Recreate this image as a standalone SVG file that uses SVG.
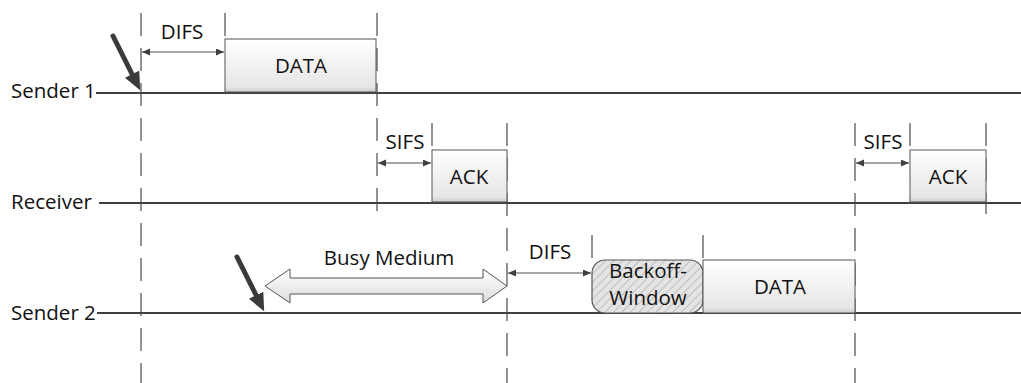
<svg xmlns="http://www.w3.org/2000/svg" width="1021" height="383" viewBox="0 0 1021 383">
<style>
text{font-family:"Open Sans","Liberation Sans",sans-serif;font-size:20.5px;fill:#111}
.lbl{text-anchor:middle}
.tl{stroke:#404040;stroke-width:2;fill:none}
.dash{stroke:#595959;stroke-width:1.3;stroke-dasharray:23 12;fill:none}
.gap{stroke:#505050;stroke-width:1.2;fill:none;marker-start:url(#sm);marker-end:url(#sm)}
.box{fill:url(#bg);stroke:#555;stroke-width:1}
.big{stroke:#3a3a3a;stroke-width:5;stroke-linecap:round;fill:none;marker-end:url(#bh)}
</style>
<defs>
<linearGradient id="bg" x1="0" y1="0" x2="0" y2="1">
<stop offset="0" stop-color="#ffffff"/><stop offset="0.9" stop-color="#e6e6e6"/><stop offset="1" stop-color="#cfcfcf"/>
</linearGradient>
<linearGradient id="ag" x1="0" y1="0" x2="0" y2="1">
<stop offset="0" stop-color="#ffffff"/><stop offset="1" stop-color="#dcdcdc"/>
</linearGradient>
<pattern id="hatch" patternUnits="userSpaceOnUse" width="6" height="6" patternTransform="rotate(45)">
<rect width="6" height="6" fill="#e4e4e4"/>
<line x1="0" y1="0" x2="0" y2="6" stroke="#9a9a9a" stroke-width="1"/>
</pattern>
<marker id="sm" markerUnits="userSpaceOnUse" markerWidth="9" markerHeight="8" refX="8" refY="3.5" orient="auto-start-reverse">
<path d="M0,0 L8,3.5 L0,7 z" fill="#404040"/>
</marker>
<marker id="bh" markerUnits="userSpaceOnUse" markerWidth="20" markerHeight="20" refX="2" refY="8" orient="auto">
<path d="M0,0 L18,8 L0,16 z" fill="#3a3a3a"/>
</marker>
</defs>

<g id="guides">
<line class="dash" x1="141" y1="13" x2="141" y2="383"/>
<line class="dash" x1="225" y1="13" x2="225" y2="39"/>
<line class="dash" x1="377" y1="13" x2="377" y2="214"/>
<line class="dash" x1="432" y1="123" x2="432" y2="150"/>
<line class="dash" x1="507" y1="123" x2="507" y2="383"/>
<line class="dash" x1="592" y1="235" x2="592" y2="260"/>
<line class="dash" x1="703" y1="235" x2="703" y2="260"/>
<line class="dash" x1="855" y1="123" x2="855" y2="383"/>
<line class="dash" x1="910" y1="123" x2="910" y2="150"/>
<line class="dash" x1="986" y1="123" x2="986" y2="214"/>
</g>

<g id="sender1">
<text x="11" y="98">Sender 1</text>
<line class="tl" x1="96" y1="93" x2="1021" y2="93"/>
</g>
<g id="receiver">
<text x="11" y="209">Receiver</text>
<line class="tl" x1="99" y1="203" x2="1021" y2="203"/>
</g>
<g id="sender2">
<text x="11" y="320">Sender 2</text>
<line class="tl" x1="97" y1="313" x2="1021" y2="313"/>
</g>

<g id="data1">
<rect class="box" x="225" y="39" width="151" height="53"/>
<text class="lbl" x="301" y="73">DATA</text>
</g>
<g id="ack1">
<rect class="box" x="432" y="150" width="75" height="52"/>
<text class="lbl" x="469" y="184">ACK</text>
</g>
<g id="ack2">
<rect class="box" x="910" y="150" width="76" height="52"/>
<text class="lbl" x="948" y="184">ACK</text>
</g>
<g id="backoff">
<rect x="592" y="260" width="111" height="53" rx="13" ry="13" fill="url(#hatch)" stroke="#555" stroke-width="1.2"/>
<text class="lbl" x="648" y="278">Backoff-</text>
<text class="lbl" x="648" y="305">Window</text>
</g>
<g id="data2">
<rect class="box" x="703" y="260" width="152" height="53"/>
<text class="lbl" x="780" y="294">DATA</text>
</g>
<g id="busy">
<polygon points="265,286 290,269 290,278 483,278 483,269 507,286 483,303 483,294 290,294 290,303" fill="url(#ag)" stroke="#555" stroke-width="1"/>
<text class="lbl" x="389" y="265">Busy Medium</text>
</g>

<g id="connectors">
<line class="gap" x1="142" y1="52" x2="224" y2="52"/>
<text class="lbl" x="182" y="39">DIFS</text>
<line class="gap" x1="378" y1="163" x2="431" y2="163"/>
<text class="lbl" x="405" y="149">SIFS</text>
<line class="gap" x1="856" y1="163" x2="909" y2="163"/>
<text class="lbl" x="883" y="149">SIFS</text>
<line class="gap" x1="508" y1="273" x2="591" y2="273"/>
<text class="lbl" x="550" y="259">DIFS</text>
<line class="big" x1="113" y1="36" x2="133" y2="76"/>
<line class="big" x1="237" y1="257" x2="257" y2="297"/>
</g>
</svg>
